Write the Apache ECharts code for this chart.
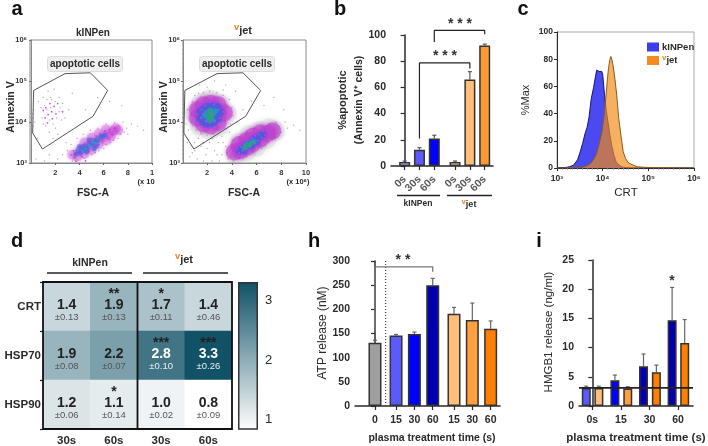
<!DOCTYPE html>
<html><head><meta charset="utf-8">
<script src="https://cdn.jsdelivr.net/npm/echarts@6/dist/echarts.min.js"></script>
<style>html,body{margin:0;padding:0;background:#fff}#c{width:708px;height:446px}</style>
</head><body><div id="c"></div>
<script>
// ---------- panel a: flow cytometry (x = FSC-A x10^6, y = log10 Annexin V)
const gate=[[0.2,4.77],[2.8,5.18],[4.9,5.2],[6.33,4.77],[5.12,4.14],[0.93,3.34],[0.12,3.73],[0.2,4.77]];
const leftGray=[[0.3,4.0],[0.5,3.6],[0.6,4.5],[0.9,4.1],[1.0,4.6],[1.2,3.9],[1.4,4.75],[1.5,3.75],[1.9,4.8],[2.3,4.6],[2.6,4.45],[2.8,4.1],[3.1,4.3],[3.4,4.7],[2.2,3.7],[1.8,3.6],[3.0,3.3],[2.6,3.2],[2.2,3.1],[1.5,3.2],[3.4,3.05],[3.8,3.08],[4.4,3.12],[5.0,3.2],[5.6,3.3],[6.2,3.45],[6.8,3.55],[7.4,3.7],[7.9,3.85],[8.3,3.95],[8.8,3.9],[9.3,3.8],[7.6,4.0],[6.9,3.98],[6.2,3.95],[5.5,3.85],[4.9,3.8],[4.3,3.7],[3.8,3.6],[3.3,3.45],[2.9,3.5],[4.5,4.3],[5.5,4.6],[6.5,4.5],[7.5,4.4],[3.6,3.2],[4.0,3.3],[4.6,3.2],[5.3,3.25],[6.0,3.35],[6.6,3.5],[7.2,3.6],[7.7,3.75],[8.0,3.7],[0.4,3.1],[1.1,3.05],[0.2,4.3],[0.15,4.1],[0.15,3.9],[0.12,4.2],[1.6,4.6],[2.0,3.85],[1.1,4.4],[1.3,4.55],[1.5,4.05],[1.7,4.55],[2.0,4.5],[2.3,4.25],[2.5,4.05],[0.8,4.35],[1.0,3.95],[1.3,4.3],[1.6,4.35],[1.8,3.95],[2.1,4.1],[2.4,4.35]];
const leftMag=[[3.3,3.2],[3.5,3.3],[3.6,3.13],[3.9,3.22],[4.0,3.38],[4.2,3.15],[4.3,3.45],[4.5,3.25],[4.7,3.5],[4.8,3.28],[5.0,3.6],[5.2,3.4],[5.4,3.65],[5.6,3.45],[5.7,3.72],[5.9,3.55],[6.1,3.78],[6.3,3.6],[6.5,3.82],[6.7,3.7],[6.9,3.85],[1.2,4.35],[1.4,4.18],[1.55,4.45],[1.7,4.25],[1.9,4.38],[2.05,4.2],[1.15,4.1],[1.35,3.98],[2.2,4.45],[2.6,4.25],[1.0,4.28],[1.75,4.08],[4.5,3.05],[3.7,3.04]];
const leftSoft=[[3.4,3.2],[4.0,3.3],[4.6,3.4],[5.2,3.5],[5.8,3.6],[6.4,3.7],[3.8,3.15],[4.4,3.5],[5,3.62],[5.6,3.72],[6.2,3.82],[4.4,3.22],[5,3.32],[5.6,3.45],[6.2,3.55],[6.8,3.78],[7.0,3.85],[6.6,3.65],[7.2,3.8]];
const leftBlue=[[3.7,3.22],[3.9,3.3],[4.1,3.25],[4.2,3.37],[4.4,3.32],[4.5,3.42],[4.7,3.38],[4.9,3.48],[5.1,3.46],[5.3,3.55],[5.5,3.55],[5.7,3.62],[5.9,3.65],[6.1,3.68],[4.0,3.4],[4.6,3.28],[5.2,3.35],[4.8,3.56],[5.4,3.42]];
const leftTeal=[[4.3,3.3],[4.5,3.35],[4.8,3.42],[5.1,3.52],[5.3,3.48],[5.5,3.6]];
const rightGray=[[0.7,4.0],[0.75,4.3],[0.8,4.5],[1.0,4.65],[1.3,4.7],[1.7,4.72],[2.2,4.75],[2.8,4.72],[3.3,4.65],[3.8,4.55],[4.0,4.35],[4.1,4.15],[3.9,3.95],[3.5,3.85],[3.0,3.75],[2.5,3.7],[2,3.68],[1.5,3.72],[1.1,3.8],[0.85,3.9],[0.4,4.3],[0.5,3.8],[0.4,3.5],[0.8,3.25],[1.2,3.1],[1.5,3.4],[1.9,3.2],[2.2,3.5],[2.6,3.3],[2.9,3.5],[3.2,3.2],[3.5,3.4],[3.7,3.1],[2.4,3.05],[1.7,3.05],[3.0,3.05],[4.1,3.05],[4.6,3.1],[5.2,3.15],[5.8,3.25],[6.4,3.35],[7.0,3.5],[7.5,3.62],[8.0,3.75],[8.5,3.85],[9.0,3.92],[9.5,3.8],[8.3,4.0],[7.6,4.0],[7.0,3.95],[6.4,3.9],[5.8,3.85],[5.2,3.78],[4.6,3.65],[4.1,3.55],[3.8,3.75],[4.4,4.0],[4.9,4.3],[5.6,4.5],[6.6,4.4],[7.4,4.6],[8.2,4.3],[3.5,4.9],[2.6,5.0],[1.4,4.9],[4.3,4.75],[3.2,3.65],[4.0,3.35],[4.8,3.4],[6.8,3.8],[7.8,3.9],[3.3,4.78],[2.0,4.85],[0.3,3.95],[0.15,4.4],[1.0,3.5],[1.3,3.6],[1.7,3.5],[2.0,3.35],[2.4,3.6],[2.8,3.2],[3.3,3.5],[3.6,3.25],[3.9,3.15],[1.0,3.3],[0.6,3.15]];
const rightMag=[[0.9,4.2],[1.0,4.05],[1.0,4.33],[1.2,3.95],[1.2,4.18],[1.25,4.42],[1.5,3.88],[1.5,4.1],[1.55,4.3],[1.6,4.5],[1.85,3.85],[1.9,4.02],[1.85,4.4],[1.95,4.55],[2.2,3.82],[2.25,3.98],[2.2,4.48],[2.3,4.58],[2.6,3.88],[2.65,4.03],[2.55,4.42],[2.7,4.56],[2.95,3.95],[3.0,4.1],[2.95,4.3],[3.05,4.5],[3.3,4.08],[3.3,4.25],[3.35,4.42],[3.6,4.2],[3.6,4.35],[1.7,4.2],[2.4,4.2],
 [4.1,3.25],[4.3,3.2],[4.4,3.35],[4.6,3.25],[4.7,3.4],[4.9,3.3],[5.0,3.45],[5.2,3.35],[5.3,3.55],[5.5,3.42],[5.6,3.6],[5.8,3.5],[5.9,3.67],[6.1,3.55],[6.2,3.7],[6.4,3.62],[6.5,3.78],[6.7,3.68],[6.9,3.8],[7.1,3.72],[7.2,3.85],[4.8,3.18]];
const rightSoft=[[1.2,4.1],[1.2,4.3],[1.7,3.95],[1.7,4.2],[1.7,4.42],[2.3,3.9],[2.3,4.2],[2.3,4.46],[2.9,3.98],[2.9,4.22],[2.9,4.42],[3.4,4.22],
 [4.2,3.27],[4.7,3.3],[4.6,3.45],[5.2,3.38],[5.2,3.55],[5.7,3.47],[5.7,3.65],[6.3,3.58],[6.3,3.74],[6.9,3.72],[7.3,3.78]];
const rightHalo=[[1.0,4.2],[1.5,4.45],[2.2,4.55],[3.0,4.45],[3.6,4.2],[3.0,3.9],[2.2,3.8],[1.4,3.9],[4.3,3.2],[5.2,3.28],[6.0,3.4],[6.8,3.58],[7.5,3.78],[7.0,3.85],[6.2,3.78],[5.4,3.68],[4.6,3.5]];
const rightBlue=[[1.4,4.1],[1.45,4.25],[1.65,4.0],[1.7,4.15],[1.7,4.33],[1.95,3.95],[2.0,4.1],[2.0,4.38],[2.3,3.96],[2.35,4.12],[2.3,4.4],[2.6,4.0],[2.6,4.15],[2.6,4.35],[2.9,4.08],[2.9,4.22],[2.85,4.38],[3.1,4.25],[2.2,4.25],
 [4.6,3.3],[4.8,3.35],[5.0,3.3],[5.1,3.42],[5.3,3.42],[5.5,3.5],[5.6,3.42],[5.8,3.58],[6.0,3.52],[6.1,3.63],[6.3,3.66],[6.5,3.7]];
const rightTeal=[[1.8,4.15],[2.0,4.22],[2.2,4.12],[2.3,4.28],[2.5,4.2],[2.1,4.05],[2.45,4.05],[2.7,4.27],[5.0,3.37],[5.2,3.45],[5.4,3.42],[5.6,3.5],[5.8,3.52]];
const rightGreen=[[2.05,4.15],[2.25,4.2],[2.15,4.3],[2.4,4.13],[2.2,4.05],[5.1,3.38],[5.35,3.45],[5.55,3.47]];
const aTicksX=[2,4,6,8,10];
const decadeLabels={3:'10³',4:'10⁴',5:'10⁵',6:'10⁶'};
// ---------- panel b
const bX=[0,1,2,3.4,4.4,5.4];
const bLabels=['0s','30s','60s','0s','30s','60s'];
const bValues=[3,12.5,21,3,66,92];
const bTops=[3.8,14,23.5,3.8,72,93];
const bColors=['#c8c8ff','#5a5aff','#0000ff','#ffe2bd','#ffbe7a','#ff9a33'];
const bBracket1=[[1,21],[1,78.7],[4.4,78.7],[4.4,74.4]];
const bBracket2=[[2,94.7],[2,103.5],[5.4,103.5],[5.4,100.5]];
// ---------- panel c (x = log10 CRT intensity, y = %Max)
const cBlue=[[3.0,0.2],[3.14,0.3],[3.2,0.4],[3.28,1],[3.36,2],[3.4,3],[3.45,6],[3.5,11],[3.56,18],[3.62,26],[3.66,30],[3.7,37],[3.75,51],[3.8,59],[3.84,67],[3.87,72],[3.89,73],[3.92,71],[3.94,72],[3.98,71],[4.0,69],[4.04,54],[4.08,42],[4.12,33],[4.16,24],[4.2,16],[4.25,9],[4.3,4],[4.38,1.5],[4.45,0.5],[4.6,0.2],[6,0]];
const cOrange=[[3.0,0],[3.4,0.2],[3.55,0.6],[3.65,1.5],[3.72,3],[3.78,5],[3.86,10],[3.92,17],[3.98,26],[4.03,38],[4.07,52],[4.1,64],[4.13,74],[4.16,80],[4.18,82],[4.2,80],[4.23,75],[4.27,65],[4.31,53],[4.35,37],[4.4,24],[4.45,12],[4.5,7],[4.56,4],[4.62,2.8],[4.68,2],[4.76,0.9],[4.9,0.5],[5.2,0.3],[6,0.2]];
// ---------- panel d
const dCols=['30s','60s','30s','60s'];
const dRows=['CRT','HSP70','HSP90'];
const dValues=[[1.4,1.9,1.7,1.4],[1.9,2.2,2.8,3.3],[1.2,1.1,1.0,0.8]];
const dErrors=[['0.13','0.13','0.11','0.46'],['0.08','0.07','0.10','0.26'],['0.06','0.14','0.02','0.09']];
const dStars=[['','**','*',''],['','','***','***'],['','*','','']];
// ---------- panel h
const hX=[0,1.15,2.15,3.15,4.31,5.31,6.31];
const hLabels=['0','15','30','60','15','30','60'];
const hValues=[131,146,149,250,191,178,160];
const hTops=[136,148,153,264,204,213,176];
const hColors=['#9f9f9f','#5a5aff','#0000ff','#0000b0','#ffbe7a','#ff9f40','#ff8000'];
const hBracket=[[0,154],[0,288],[3.15,288],[3.15,278]];
const hDivider=[[0.58,0],[0.58,303]];
// ---------- panel i
const iX=[-0.21,0.23,0.79,1.24,1.79,2.24,2.79,3.23];
const iTicks=[0,1,2,3];
const iLabels=['0s','15','30','60'];
const iValues=[3.1,3.1,4.4,3.0,6.8,5.8,14.7,10.8];
const iTops=[3.4,3.4,5.3,3.3,8.9,7,20.3,14.8];
const iColors=['#5a5aff','#ffbe7a','#0000ff','#ff9f40','#0000b0','#ff8000','#0000b0','#ff8000'];
const iBaseline=[[-0.465,3.1],[3.52,3.1]];

const FONT='"Liberation Sans"';
const DARK='#2a2a2a';
const grids=[
 {left:30,top:40,width:122,height:123,show:true,borderColor:'#888',borderWidth:1},
 {left:183,top:40,width:123,height:123,show:true,borderColor:'#888',borderWidth:1},
 {left:391,top:35,width:102,height:131},
 {left:557,top:32,width:137,height:136,show:true,borderColor:'#aaa',borderWidth:1},
 {left:43,top:282,width:189,height:147},
 {left:238,top:282,width:20,height:147},
 {left:355,top:261,width:145,height:145},
 {left:579,top:260,width:114,height:146}
].map(g=>Object.assign(g,{outerBoundsMode:'none',containLabel:false}));
const solidAxis={lineStyle:{color:DARK,width:1.5}};
function xVal(g,min,max,ticks,labels,extra){
 return Object.assign({type:'value',gridIndex:g,min,max,splitLine:{show:false},axisLine:solidAxis,
  axisTick:{customValues:ticks,length:4,lineStyle:{color:DARK,width:1.2}},
  axisLabel:{customValues:ticks,fontFamily:FONT,fontWeight:'bold',fontSize:10.5,color:DARK,margin:7,hideOverlap:false,
   formatter:v=>{const i=ticks.findIndex(t=>Math.abs(t-v)<1e-6);return i<0?'':labels[i];}}},extra||{});
}
function yVal(g,min,max,interval,extra){
 return Object.assign({type:'value',gridIndex:g,min,max,interval,splitLine:{show:false},axisLine:Object.assign({show:true},solidAxis),
  axisTick:{show:true,length:4,lineStyle:{color:DARK,width:1.2}},
  axisLabel:{fontFamily:FONT,fontWeight:'bold',fontSize:10.5,color:DARK,margin:5}},extra||{});
}
const flowX=(g,min)=>xVal(g,min,10,aTicksX,g===0?['2','4','6','8','1']:['2','4','6','8','10'],{
 axisLine:{lineStyle:{color:'#888',width:1}},axisTick:{customValues:aTicksX,length:2,lineStyle:{color:'#666'}},
 axisLabel:{customValues:aTicksX,fontFamily:FONT,fontWeight:'bold',fontSize:7.5,color:'#333',margin:6,hideOverlap:false,
  formatter:v=>(g===0&&v===10)?'1':String(v)}});
const flowY=g=>yVal(g,3,6,1,{axisLine:{show:true,lineStyle:{color:'#888',width:1}},
 axisTick:{show:true,length:2,lineStyle:{color:'#666'}},minorTick:{show:true,splitNumber:9,length:1,lineStyle:{color:'#aaa'}},
 axisLabel:{fontFamily:FONT,fontWeight:'bold',fontSize:7.5,color:'#333',margin:3,formatter:v=>decadeLabels[v]}});
const xAxes=[
 flowX(0,-0.1),flowX(1,0.05),
 xVal(2,-0.92,5.96,bX,bLabels,{axisLabel:{show:false}}),
 {type:'value',gridIndex:3,min:3,max:6,interval:1,splitLine:{show:false},axisLine:{lineStyle:{color:DARK,width:1}},
  axisTick:{length:3,lineStyle:{color:DARK}},minorTick:{show:true,splitNumber:9,length:1.5,lineStyle:{color:'#777'}},
  axisLabel:{fontFamily:FONT,fontWeight:'bold',fontSize:8.5,color:DARK,margin:6,formatter:v=>decadeLabels[v]}},
 {type:'category',gridIndex:4,data:dCols,axisLine:{show:false},axisTick:{show:false},
  axisLabel:{fontFamily:FONT,fontWeight:'bold',fontSize:11.5,color:DARK,margin:6}},
 {type:'category',gridIndex:5,data:['scale'],show:false},
 xVal(6,-1.09,6.82,hX,hLabels,{axisLabel:{customValues:hX,hideOverlap:false,fontFamily:FONT,fontWeight:'bold',fontSize:10.5,color:DARK,margin:9,
   formatter:v=>{const i=hX.findIndex(t=>Math.abs(t-v)<1e-6);return i<0?'':hLabels[i];}}}),
 xVal(7,-0.465,3.52,iTicks,iLabels,{axisLabel:{customValues:iTicks,hideOverlap:false,fontFamily:FONT,fontWeight:'bold',fontSize:10.5,color:DARK,margin:9,
   formatter:v=>{const i=iTicks.indexOf(v);return i<0?'':iLabels[i];}}})
];
const yAxes=[
 flowY(0),flowY(1),
 yVal(2,0,100,20),
 yVal(3,0,100,20,{axisLine:{show:true,lineStyle:{color:DARK,width:1}},axisTick:{show:true,length:3,lineStyle:{color:DARK}},
  axisLabel:{fontFamily:FONT,fontWeight:'bold',fontSize:8.5,color:DARK,margin:4}}),
 {type:'category',gridIndex:4,data:dRows,inverse:true,axisLine:{show:false},axisTick:{show:true,length:3,lineStyle:{color:'#222',width:1.2}},
  axisLabel:{fontFamily:FONT,fontWeight:'bold',fontSize:11.5,color:DARK,margin:2}},
 {type:'value',gridIndex:5,min:0.83,max:3.32,position:'right',splitLine:{show:false},axisLine:{show:false},
  axisTick:{show:true,inside:true,length:3,customValues:[1,2,3],lineStyle:{color:'#222',width:1.5}},
  axisLabel:{customValues:[1,2,3],fontFamily:FONT,fontSize:13,color:DARK,margin:7}},
 yVal(6,0,300,50),
 yVal(7,0,25,5)
];
function dots(g,data,color,size,op){return {type:'scatter',xAxisIndex:g,yAxisIndex:g,data,symbolSize:size,silent:true,
 itemStyle:{color,opacity:op},z:2};}
function soft(g,data,color,size,op,blur){return {type:'scatter',xAxisIndex:g,yAxisIndex:g,data,symbolSize:size,silent:true,
 itemStyle:{color,opacity:op,shadowBlur:blur,shadowColor:color},z:2};}
function gateLine(g){return {type:'line',xAxisIndex:g,yAxisIndex:g,data:gate,showSymbol:false,silent:true,z:5,lineStyle:{color:'#555',width:1}};}
function bars(g,xs,vals,colors,w){return {type:'bar',xAxisIndex:g,yAxisIndex:g,barWidth:w,silent:true,z:3,
 data:xs.map((x,i)=>({value:[x,vals[i]],itemStyle:{color:colors[i],borderColor:'#333',borderWidth:1.5}}))};}
function errs(g,xs,vals,tops,color){return {type:'custom',xAxisIndex:g,yAxisIndex:g,silent:true,z:2,
 data:xs.map((x,i)=>[x,vals[i],tops[i]]),encode:{x:0,y:[1,2]},
 renderItem:(p,api)=>{const a=api.coord([api.value(0),api.value(1)]),b=api.coord([api.value(0),api.value(2)]);
  return {type:'group',children:[
   {type:'line',shape:{x1:a[0],y1:a[1],x2:b[0],y2:b[1]},style:{stroke:color,lineWidth:1.2}},
   {type:'line',shape:{x1:b[0]-2,y1:b[1],x2:b[0]+2,y2:b[1]},style:{stroke:color,lineWidth:1.2}}]};}};}
function path(g,data,color,w,type){return {type:'line',xAxisIndex:g,yAxisIndex:g,data,showSymbol:false,silent:true,clip:false,z:6,
 lineStyle:{color,width:w,type:type||'solid'}};}
const heatData=[];
dValues.forEach((row,r)=>row.forEach((v,c)=>{
 const light=v>=2.5;
 heatData.push({value:[c,r,v],label:{formatter:
   '{s|'+(dStars[r][c]||' ')+'}\n{'+(light?'vw':'v')+'|'+v.toFixed(1)+'}\n{'+(light?'ew':'e')+'|±'+dErrors[r][c]+'}'}});
}));
const series=[
 dots(0,leftGray,'#777',1.4,.6),soft(0,leftSoft,'#c23ad0',10,.3,4),soft(0,leftBlue,'#4a62e0',5,.55,3),dots(0,leftTeal,'#2aa0c0',3,.7),dots(0,leftMag,'#c23ad0',1.8,.85),gateLine(0),
 soft(1,rightHalo,'#999',20,.14,6),dots(1,rightGray,'#777',1.4,.6),soft(1,rightSoft,'#bd3ccf',17,.55,4),soft(1,rightBlue,'#4b5ae0',7,.7,3),soft(1,rightTeal,'#2497bb',5,.75,2),dots(1,rightGreen,'#22b050',3.5,.9),dots(1,rightMag,'#c84ad8',1.8,.9),gateLine(1),
 errs(2,bX,bValues,bTops,'#555'),bars(2,bX,bValues,bColors,11),path(2,bBracket1,'#222',1.2),path(2,bBracket2,'#222',1.2),
 {type:'scatter',xAxisIndex:2,yAxisIndex:2,silent:true,clip:false,symbolSize:1,itemStyle:{color:'rgba(0,0,0,0)'},z:7,data:bX.map(x=>[x,0]),
  labelLayout:{hideOverlap:false},
  label:{show:true,position:'bottom',distance:11,rotate:45,align:'right',verticalAlign:'middle',fontFamily:FONT,fontWeight:'bold',fontSize:10.5,color:DARK,
   formatter:p=>bLabels[p.dataIndex]}},
 {name:'kINPen',type:'line',xAxisIndex:3,yAxisIndex:3,data:cBlue,showSymbol:false,silent:true,z:2,itemStyle:{color:'#3d3df0'},
  lineStyle:{color:'#14147a',width:1},areaStyle:{color:'#4a4af0',opacity:1}},
 {name:'vjet',type:'line',xAxisIndex:3,yAxisIndex:3,data:cOrange,showSymbol:false,silent:true,z:3,itemStyle:{color:'#f58a20'},
  lineStyle:{color:'#8a5a20',width:1},areaStyle:{color:'#f08a15',opacity:.68}},
 {type:'heatmap',xAxisIndex:4,yAxisIndex:4,data:heatData,silent:true,
  label:{show:true,lineHeight:15,rich:{
   s:{fontFamily:FONT,fontWeight:'bold',fontSize:14,color:'#222',height:12,lineHeight:12,padding:[5,0,0,0]},
   v:{fontFamily:'"Liberation Sans Narrow",'+FONT,fontSize:14,fontWeight:'bold',color:'#222',height:15,lineHeight:15},
   vw:{fontFamily:'"Liberation Sans Narrow",'+FONT,fontSize:14,fontWeight:'bold',color:'#fff',height:15,lineHeight:15},
   e:{fontFamily:FONT,fontSize:9.5,color:'#555',height:14,lineHeight:14,padding:[0,0,5,0]},
   ew:{fontFamily:FONT,fontSize:9.5,color:'#e8eef0',height:14,lineHeight:14,padding:[0,0,5,0]}}}},
 {type:'bar',xAxisIndex:5,yAxisIndex:5,barWidth:'100%',silent:true,data:[3.32],
  itemStyle:{borderColor:'#333',borderWidth:1.5,color:new echarts.graphic.LinearGradient(0,0,0,1,[{offset:0,color:'#0f5166'},{offset:1,color:'#ffffff'}])}},
 errs(6,hX,hValues,hTops,'#666'),bars(6,hX,hValues,hColors,13),path(6,hDivider,'#444',1.2,[1,2]),path(6,hBracket,'#777',1.3),
 errs(7,iX,iValues,iTops,'#666'),bars(7,iX,iValues,iColors,9),path(7,iBaseline,'#222',1.8)
];
function T(x,y,text,o){o=o||{};return {type:'text',x,y,rotation:o.rot||0,z:20,silent:true,style:{text,fontFamily:o.ff||FONT,fontWeight:o.w||'bold',fontSize:o.s||11,fill:o.c||DARK,
 align:o.a||'center',verticalAlign:'middle',rich:o.rich,backgroundColor:o.bg,borderColor:o.bc,borderWidth:o.bc?1:0,borderRadius:o.br,padding:o.pad}};}
function L(x1,y1,x2,y2,w,c){return {type:'line',z:20,silent:true,shape:{x1,y1,x2,y2},style:{stroke:c||'#222',lineWidth:w||1.5}};}
const vRich=s=>({o:{fontFamily:FONT,fontWeight:'bold',fontSize:s*.85,fill:'#f58220',color:'#f58220',padding:[0,0,s*.6,0]},k:{fontFamily:FONT,fontWeight:'bold',fontSize:s,color:DARK}});
const graphic=[
 T(17,9,'a',{s:20,c:'#111'}),T(340,9,'b',{s:20,c:'#111'}),T(523,9,'c',{s:20,c:'#111'}),
 T(17,241,'d',{s:20,c:'#111'}),T(314,241,'h',{s:20,c:'#111'}),T(539,241,'i',{s:20,c:'#111'}),
 T(93,33,'kINPen',{s:10}),T(243,31,'{o|v}{k|jet}',{rich:vRich(11)}),
 T(11,107,'Annexin V',{s:10.5,rot:Math.PI/2}),T(164,107,'Annexin V',{s:10.5,rot:Math.PI/2}),
 T(85,64,'apoptotic cells',{s:10,bg:'#efefef',bc:'#ddd',br:3,pad:[2,2,2,2]}),
 T(237,64,'apoptotic cells',{s:10,bg:'#efefef',bc:'#ddd',br:3,pad:[2,2,2,2]}),
 T(93,193,'FSC-A',{s:10.5}),T(244,193,'FSC-A',{s:10.5}),
 T(146,182,'(x 10',{s:7.5}),T(298,182,'(x 10⁶)',{s:7.5}),
 T(343,100,'%apoptotic',{s:11,rot:Math.PI/2}),T(359,100,'(Annexin V⁺ cells)',{s:10.5,rot:Math.PI/2}),
 T(460,24,'* * *',{s:14,c:'#333'}),T(445,56,'* * *',{s:14,c:'#333'}),
 L(397,195.5,440,195.5,1.5),L(447,195.5,492,195.5,1.5),
 T(418,204,'kINPen',{s:8.5}),T(469,205,'{o|v}{k|jet}',{rich:vRich(9)}),
 T(526,100,'%Max',{s:11,rot:Math.PI/2,w:'normal'}),T(626,193,'CRT',{s:11.5,w:'normal'}),
 T(90,263,'kINPen',{s:10.5}),T(184,260,'{o|v}{k|jet}',{rich:vRich(11)}),
 L(47,273,132,273,1.5),L(143,273,228,273,1.5),
 {type:'rect',z:21,silent:true,shape:{x:43,y:282,width:189,height:147},style:{fill:'none',stroke:'#111',lineWidth:1.8}},
 L(137.5,282,137.5,429,1.8,'#111'),
 T(323,333,'ATP release (nM)',{s:12,w:'normal',rot:Math.PI/2}),
 T(403,260,'* *',{s:14,c:'#333'}),
 T(432,438,'plasma treatment time (s)',{s:10.5}),
 T(549,332,'HMGB1 release (ng/ml)',{s:11.5,w:'normal',rot:Math.PI/2}),
 T(672,281,'*',{s:14,c:'#333'}),
 T(636,438,'plasma treatment time (s)',{s:11.5})
];
const chart=echarts.init(document.getElementById('c'),null,{renderer:'canvas'});
chart.setOption({animation:false,backgroundColor:'#fff',textStyle:{fontFamily:FONT},grid:grids,xAxis:xAxes,yAxis:yAxes,series,graphic,
 tooltip:{show:false},
 legend:{show:true,data:['kINPen','vjet'],left:642,top:37,orient:'vertical',itemWidth:12,itemHeight:9,itemGap:2,icon:'rect',selectedMode:false,
  formatter:n=>n==='vjet'?'{o|v}{k|jet}':'{k|kINPen}',textStyle:{fontFamily:FONT,fontWeight:'bold',fontSize:9.5,color:DARK,padding:[0,0,0,-2],
   rich:{o:{fontSize:8,fontWeight:'bold',color:'#f58220',padding:[0,0,5,0]},k:{fontFamily:FONT,fontWeight:'bold',fontSize:9.5,color:DARK}}}},
 visualMap:{show:false,min:0.83,max:3.32,seriesIndex:series.findIndex(s=>s.type==='heatmap'),dimension:2,inRange:{color:['#ffffff','#0f5166']}}
});
</script></body></html>
